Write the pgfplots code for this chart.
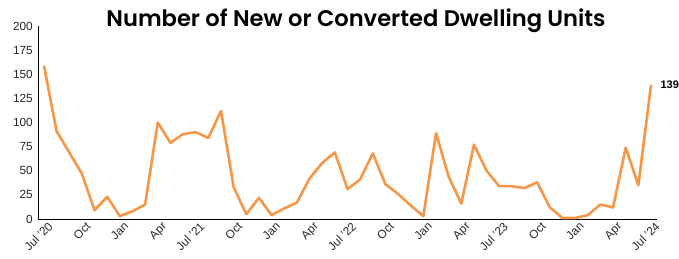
\documentclass[border=0pt]{standalone}
\usepackage{fontspec}
\setmainfont{Liberation Sans}
\newfontfamily\titlefont{Poppins SemiBold}
\usepackage{pgfplots}
\pgfplotsset{compat=1.18}
\definecolor{lineor}{RGB}{247,150,70}
\begin{document}
\begin{tikzpicture}[x=1pt,y=1pt]
\useasboundingbox (-38,-39) rectangle (641,219);
\begin{axis}[
  at={(0,0)}, anchor=south west,
  scale only axis,
  width=618.7pt, height=193pt,
  xmin=-0.47, xmax=48.45,
  ymin=0, ymax=200,
  axis lines*=left,
  axis line style={black, line width=0.8pt},
  ytick={0,25,...,200},
  xtick={0,3,...,48},
  xticklabels={Jul '20,Oct,Jan,Apr,Jul '21,Oct,Jan,Apr,Jul '22,Oct,Jan,Apr,Jul '23,Oct,Jan,Apr,Jul '24},
  major tick length=0pt,
  tick label style={font=\fontsize{11.8}{13}\selectfont, text=black!85},
  xticklabel style={rotate=45, anchor=north east, inner sep=1pt, yshift=-3pt, xshift=2pt},
  yticklabel style={inner sep=2pt, xshift=-3pt},
  /pgf/number format/assume math mode=true,
  clip=false,
]
\addplot[lineor, line width=2.6pt, line join=round] coordinates {
(0,159)(1,91)(2,69)(3,47)(4,9)(5,23)
(6,3)(7,8)(8,15)(9,100)(10,79)(11,88)(12,90)(13,84)(14,112)(15,33)(16,5)(17,22)
(18,4)(19,11)(20,17)(21,42)(22,58)(23,69)(24,31)(25,41)(26,68)(27,36)(28,26)(29,14)
(30,3)(31,89)(32,44)(33,16)(34,77)(35,50)(36,34)(37,34)(38,32)(39,38)(40,12)(41,1)
(42,1)(43,4)(44,15)(45,12)(46,74)(47,35)(48,139)
};
\node[anchor=west, font=\bfseries\fontsize{11}{12}\selectfont, xshift=6pt] at (axis cs:48,139) {139};
\end{axis}
\node[font=\titlefont\fontsize{22.6}{26}\selectfont] at (318,198) {Number of New or Converted Dwelling Units};
\end{tikzpicture}
\end{document}
